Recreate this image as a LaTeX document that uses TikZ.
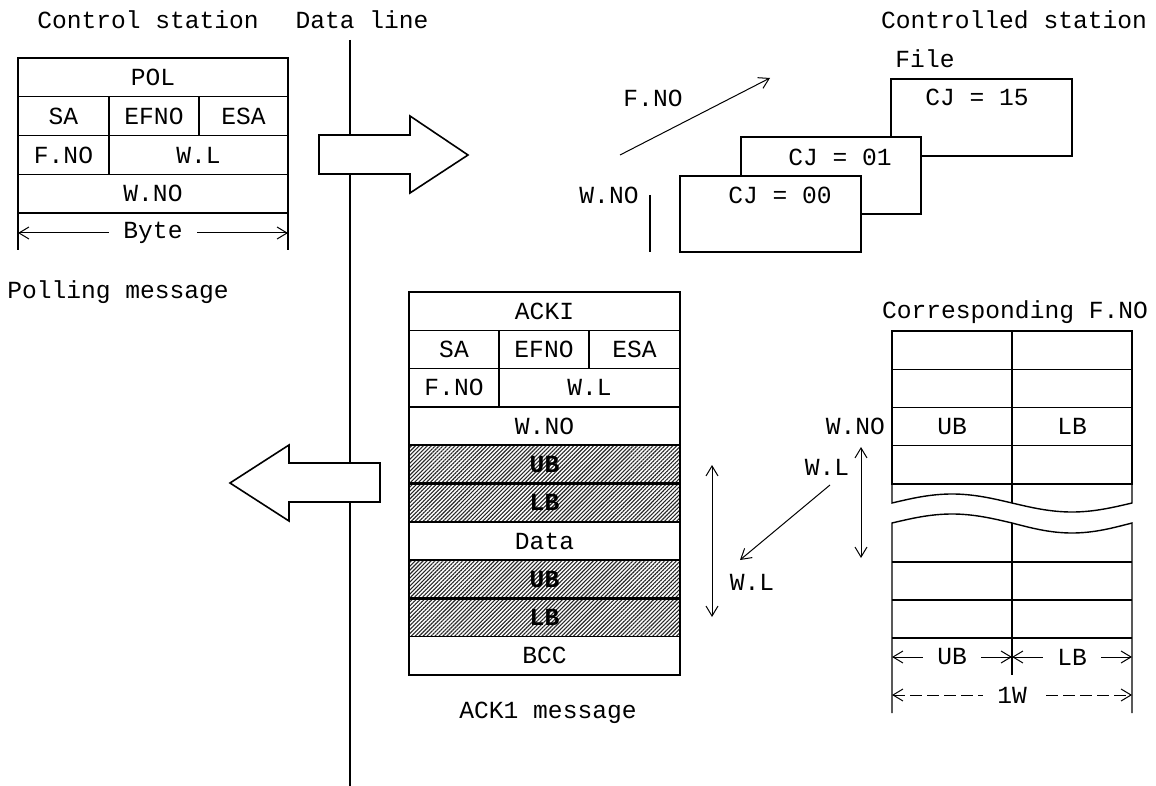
\documentclass[tikz,border=0pt]{standalone}
\usepackage{fontspec}
\setmainfont{Liberation Mono}
\usetikzlibrary{arrows.meta,patterns.meta,positioning}

\begin{document}
\begin{tikzpicture}[
  x=0.5pt, y=-0.5pt,
  font=\fontsize{12.3}{14}\selectfont,
  >={Straight Barb[length=5pt,width=6pt]},
  field/.style={rectangle, draw=black, fill=white, line width=0.7pt,
                inner sep=0pt, outer sep=0pt, minimum height=19.375pt},
  ackfield/.style={field, minimum height=19.15pt},
  hatched/.style={ackfield, line width=1.1pt,
                  pattern={Lines[angle=45, distance=1.4pt, line width=0.55pt]},
                  pattern color=black!85, font=\fontsize{12.3}{14}\selectfont\bfseries},
  cell/.style={field, minimum width=60pt, minimum height=19.125pt},
  filebox/.style={rectangle, draw=black, fill=white, line width=0.7pt, inner sep=0pt},
  bigarrow/.style={draw=black, fill=white, line width=0.8pt, line join=miter},
  rule/.style={line width=0.7pt},
  dim/.style={<->, line width=0.5pt},
  dimlbl/.style={fill=white, inner xsep=7pt, inner ysep=1pt},
]
\useasboundingbox (0,0) rectangle (1156,786);
\fill[white] (0,0) rectangle (1156,786);

% --- headings ---
\node (ctrl) at (148,20) {Control station};
\node (dline) at (362,20) {Data line};
\node (ctld) at (1014,20) {Controlled station};

% --- data line ---
\coordinate (lineTop) at (350,40);
\coordinate (lineBot) at (350,786);
\draw[rule] (lineTop) -- (lineBot);

% --- polling message ---
\node[field, minimum width=135pt]  (pol)   at (153,77.4)   {POL};
\node[field, minimum width=45.5pt] (psa)   at (63.5,116.1) {SA};
\node[field, minimum width=45pt]   (pefno) at (154,116.1)  {EFNO};
\node[field, minimum width=44.5pt] (pesa)  at (243.5,116.1){ESA};
\node[field, minimum width=45.5pt] (pfno)  at (63.5,154.9) {F.NO};
\node[field, minimum width=89.5pt] (pwl)   at (198.5,154.9){W.L};
\node[field, minimum width=135pt]  (pwno)  at (153,193.6)  {W.NO};

\coordinate (pExtL) at (18,250);
\coordinate (pExtR) at (288,250);
\coordinate (byteL) at (18,233);
\coordinate (byteR) at (288,233);
\draw[rule] (pwno.south west) -- (pExtL);
\draw[rule] (pwno.south east) -- (pExtR);
\draw[dim] (byteL) -- node[dimlbl]{Byte} (byteR);

\node (pollmsg) at (118,292) {Polling message};

% --- transfer arrows over the data line ---
\draw[bigarrow] (319,135) -- (410,135) -- (410,116) -- (468,155)
                -- (410,193) -- (410,174) -- (319,174) -- cycle;
\draw[bigarrow] (380,463) -- (289,463) -- (289,445) -- (230,483)
                -- (289,521) -- (289,502) -- (380,502) -- cycle;

% --- file in the controlled station ---
\node (file) at (925,59) {File};
\node[filebox, minimum width=90.5pt, minimum height=38.5pt] (cj15) at (981.5,117.5) {};
\node[filebox, minimum width=90pt,   minimum height=38.5pt] (cj01) at (831,175.5) {};
\node[filebox, minimum width=90.5pt, minimum height=38pt]   (cj00) at (770.5,214) {};
\node (cj15t) at (977,97)  {CJ = 15};
\node (cj01t) at (840,157) {CJ = 01};
\node (cj00t) at (780,195) {CJ = 00};

\node (fnolbl) at (653,98) {F.NO};
\coordinate (fnoS) at (620,155);
\coordinate (fnoE) at (770,78);
\draw[->, line width=0.5pt] (fnoS) -- (fnoE);

\node (wnolbl) at (609,195) {W.NO};
\coordinate (wnoTop) at (650,195);
\coordinate (wnoBot) at (650,252);
\draw[line width=1pt] (wnoTop) -- (wnoBot);

% --- ACK1 message ---
\node[ackfield, minimum width=135.5pt] (ack)   at (544.5,311.15) {ACKI};
\node[ackfield, minimum width=45pt]    (asa)   at (454,349.45)   {SA};
\node[ackfield, minimum width=45pt]    (aefno) at (544,349.45)   {EFNO};
\node[ackfield, minimum width=45.5pt]  (aesa)  at (634.5,349.45) {ESA};
\node[ackfield, minimum width=45pt]    (afno)  at (454,387.75)   {F.NO};
\node[ackfield, minimum width=90.5pt]  (awl)   at (589.5,387.75) {W.L};
\node[ackfield, minimum width=135.5pt] (awno)  at (544.5,426.05) {W.NO};
\node[hatched, minimum width=135.5pt]  (aub1)  at (544.5,464.35) {UB};
\node[hatched, minimum width=135.5pt]  (alb1)  at (544.5,502.65) {LB};
\node[ackfield, minimum width=135.5pt] (adata) at (544.5,540.95) {Data};
\node[hatched, minimum width=135.5pt]  (aub2)  at (544.5,579.25) {UB};
\node[hatched, minimum width=135.5pt]  (alb2)  at (544.5,617.55) {LB};
\node[ackfield, minimum width=135.5pt] (abcc)  at (544.5,655.85) {BCC};

\node (ackmsg) at (548,713) {ACK1 message};

% --- word length markers ---
\coordinate (wlTop) at (712,465);
\coordinate (wlBot) at (712,617);
\draw[dim] (wlTop) -- (wlBot);
\node (wllow) at (752,582) {W.L};
\node (wlup) at (827,467) {W.L};
\coordinate (diagS) at (830,485);
\coordinate (diagE) at (740,560);
\draw[->, line width=0.5pt] (diagS) -- (diagE);
\coordinate (fwlTop) at (861,447);
\coordinate (fwlBot) at (861,558);
\draw[dim] (fwlTop) -- (fwlBot);

% --- corresponding F.NO table ---
\node (corr) at (1015,312) {Corresponding F.NO};
\node[cell] (t11) at (952,350.1)  {};
\node[cell] (t12) at (1072,350.1) {};
\node[cell] (t21) at (952,388.4)  {};
\node[cell] (t22) at (1072,388.4) {};
\node[cell] (t31) at (952,426.6)  {UB};
\node[cell] (t32) at (1072,426.6) {LB};
\node[cell] (t41) at (952,464.9)  {};
\node[cell] (t42) at (1072,464.9) {};
\node[anchor=east] (fwno) at (t31.west) {W.NO};

\draw[rule] (t41.south west) -- (892,503) sin (952,494) cos (1012,503)
            sin (1072,512) cos (1132,503) -- (t42.south east);
\draw[rule] (t41.south east) -- (1012,503);
\draw[rule] (892,713) -- (892,523) sin (952,514) cos (1012,523)
            sin (1072,533) cos (1132,523) -- (1132,713);
\draw[rule] (1012,523) -- (1012,675);
\draw[rule] (892,562) -- (1132,562);
\draw[rule] (892,600) -- (1132,600);
\draw[rule] (892,638) -- (1132,638);

\coordinate (ubL) at (892,657);
\coordinate (ubR) at (1012,657);
\coordinate (lbR) at (1132,657);
\draw[dim] (ubL) -- node[dimlbl]{UB} (ubR);
\draw[dim] (ubR) -- node[dimlbl]{LB} (lbR);
\coordinate (wL) at (892,695);
\coordinate (wR) at (1132,695);
\draw[dim, dash pattern=on 6pt off 2.5pt] (wL) -- node[dimlbl]{1W} (wR);

\end{tikzpicture}
\end{document}
